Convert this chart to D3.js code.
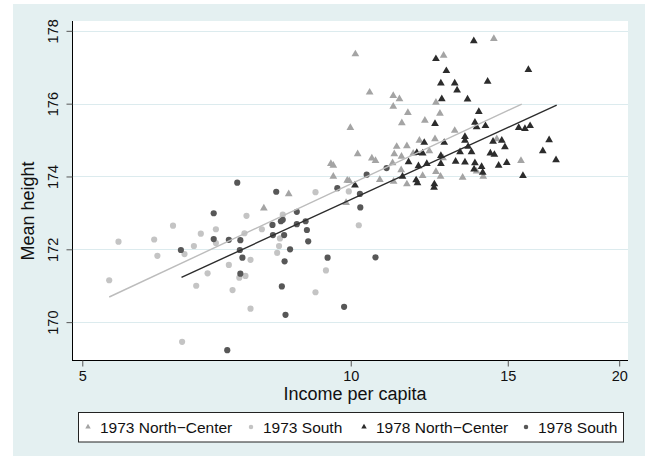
<!DOCTYPE html>
<html>
<head>
<meta charset="utf-8">
<script src="https://cdn.jsdelivr.net/npm/d3@7/dist/d3.min.js"></script>
<style>
  body { margin: 0; background: #fff; }
  svg { display: block; font-family: "Liberation Sans", Arial, Helvetica, sans-serif; }
</style>
</head>
<body>
<div id="chart"></div>
<script>
// ── Datos (ingreso per cápita, estatura media) ─────────────
const north1973 = [
  [10.12,177.36],[14.47,177.78],[12.71,177.32],[10.50,176.31],[11.16,176.22],[11.34,176.13],
  [11.16,175.92],[11.59,175.75],[12.46,176.03],[12.59,175.73],[12.11,175.54],[11.41,175.47],
  [9.99,175.34],[13.08,175.26],[14.58,175.03],[11.94,174.99],[12.43,175.03],[11.26,174.82],
  [11.56,174.84],[12.25,174.70],[11.19,174.62],[11.40,174.55],[10.18,174.62],[10.56,174.50],
  [10.66,174.43],[11.14,174.37],[9.50,174.35],[9.56,174.30],[9.56,174.00],[9.96,173.88],
  [10.78,173.91],[11.17,173.86],[11.56,173.79],[12.04,174.02],[12.46,174.13],[12.61,174.00],
  [13.35,173.97],[13.84,174.14],[14.08,174.00],[15.52,174.43],[11.75,174.63],[7.99,173.13],
  [8.52,173.52],[9.88,173.28],[9.91,173.89],[12.69,174.51],[11.39,174.18]
];
const south1973 = [
  [5.36,171.15],[5.49,172.21],[6.02,172.27],[6.07,171.82],[6.32,172.65],[6.51,171.87],
  [6.67,172.09],[6.71,171.00],[6.79,172.43],[6.91,171.34],[7.06,172.55],[7.06,172.17],
  [7.30,171.57],[7.37,170.88],[7.60,172.44],[7.64,172.92],[7.62,171.27],[7.50,171.22],
  [7.72,171.71],[7.72,170.37],[7.95,172.55],[8.27,171.90],[8.31,172.09],[8.33,172.30],
  [8.39,172.95],[9.13,173.57],[9.13,170.82],[9.38,171.42],[6.47,169.46],[10.21,172.66],
  [9.95,173.59]
];
const north1978 = [
  [13.74,177.72],[12.46,177.23],[12.80,176.90],[15.82,176.93],[12.62,176.56],[13.08,176.56],
  [14.24,176.61],[13.16,176.37],[12.65,176.13],[13.52,176.12],[13.92,175.78],[12.43,175.45],
  [13.78,175.48],[13.84,175.36],[14.16,175.39],[15.43,175.34],[15.68,175.31],[15.89,175.39],
  [13.43,175.09],[13.43,174.99],[12.09,174.93],[12.73,174.93],[14.44,174.96],[14.77,174.99],
  [16.69,175.00],[14.89,174.81],[13.54,174.82],[13.26,174.67],[13.66,174.67],[14.34,174.64],
  [14.49,174.60],[16.42,174.70],[11.86,174.65],[12.04,174.64],[12.62,174.57],[13.43,174.39],
  [13.11,174.41],[13.78,174.37],[14.02,174.27],[14.65,174.30],[14.96,174.38],[16.99,174.45],
  [11.61,174.40],[11.91,174.29],[12.17,174.35],[12.62,174.35],[13.75,174.20],[14.06,174.11],
  [11.43,174.00],[15.60,174.02],[11.84,173.90],[11.88,173.82],[12.41,173.79],[12.40,173.70],
  [10.11,173.76]
];
const south1978 = [
  [7.46,173.83],[8.25,173.58],[7.02,172.99],[6.45,171.98],[7.02,172.28],[7.30,172.26],
  [7.52,172.25],[7.51,171.98],[7.56,171.77],[7.52,171.33],[8.17,172.67],[8.18,172.39],
  [8.35,172.77],[8.39,172.81],[8.42,172.39],[8.55,172.00],[8.43,171.67],[8.37,170.98],
  [8.45,170.20],[8.70,173.03],[8.70,172.69],[8.90,172.77],[8.93,172.53],[8.96,172.22],
  [9.42,171.77],[9.66,173.68],[9.83,170.42],[7.27,169.23],[10.24,173.52],[10.25,173.15],
  [10.66,171.78],[10.42,174.05],[10.97,174.23]
];
// Rectas de ajuste (extremos)
const fit1973 = [[5.36,170.69],[15.55,175.99]];
const fit1978 = [[6.46,171.23],[17.02,175.96]];

const xTicks = [5, 10, 15, 20];
const yTicks = [170, 172, 174, 176, 178];

const series = [
  { name: '1973 North\u2212Center', data: north1973, shape: 'tri',    color: '#a4a4a4' },
  { name: '1973 South',            data: south1973, shape: 'circle', color: '#c4c4c4' },
  { name: '1978 North\u2212Center', data: north1978, shape: 'tri',    color: '#2c2c2c' },
  { name: '1978 South',            data: south1978, shape: 'circle', color: '#575757' }
];

// ── Lienzo ─────────────────────────────────────────────────
const W = 649, H = 459;
const plot = { left: 72, right: 628, top: 21, bottom: 360 };

const svg = d3.select('#chart').append('svg')
  .attr('width', W).attr('height', H);

svg.append('rect').attr('x', 13).attr('y', 4).attr('width', 632).attr('height', 452)
  .attr('fill', '#e4f0f1');
svg.append('rect').attr('x', plot.left).attr('y', plot.top)
  .attr('width', plot.right - plot.left).attr('height', plot.bottom - plot.top)
  .attr('fill', '#fff');

const x = d3.scaleLog().domain([4.869, 20.46]).range([plot.left, plot.right]);
const y = d3.scaleLinear().domain([168.96, 178.27]).range([plot.bottom, plot.top]);

// Rejilla
svg.append('g').selectAll('line').data(yTicks).join('line')
  .attr('x1', plot.left).attr('x2', plot.right)
  .attr('y1', d => Math.round(y(d)) + 0.5).attr('y2', d => Math.round(y(d)) + 0.5)
  .attr('stroke', '#dcebee').attr('stroke-width', 1.2);

// Ejes
const yAxis = svg.append('g')
  .attr('transform', `translate(${plot.left + 0.5},0)`)
  .call(d3.axisLeft(y).tickValues(yTicks).tickSize(6).tickPadding(4).tickFormat(d3.format('d')));
yAxis.select('.domain').attr('d', `M0,${plot.top}V${plot.bottom}`).attr('stroke', '#000');
yAxis.selectAll('.tick line').attr('stroke', '#555');
yAxis.selectAll('.tick text')
  .attr('x', null).attr('dy', null)
  .attr('transform', 'translate(-15,0) rotate(-90)')
  .attr('text-anchor', 'middle')
  .style('font-size', '14.5px').attr('fill', '#111');

const xAxis = svg.append('g')
  .attr('transform', `translate(0,${plot.bottom + 0.5})`)
  .call(d3.axisBottom(x).tickValues(xTicks).tickSize(6).tickFormat(d3.format('d')));
xAxis.select('.domain').attr('d', `M${plot.left},0H${plot.right}`).attr('stroke', '#000');
xAxis.selectAll('.tick line').attr('stroke', '#555');
xAxis.selectAll('.tick text')
  .attr('y', 20.5).attr('dy', null)
  .style('font-size', '14.5px').attr('fill', '#111');

// Títulos de ejes
svg.append('text').attr('x', 355).attr('y', 400)
  .attr('text-anchor', 'middle').style('font-size', '18px').attr('fill', '#111')
  .text('Income per capita');
svg.append('text').attr('transform', 'translate(34,211) rotate(-90)')
  .attr('text-anchor', 'middle').style('font-size', '18px').attr('fill', '#111')
  .text('Mean height');

// Marcadores
const triPt = d3.symbol().type(d3.symbolTriangle).size(26);
const cirPt = d3.symbol().type(d3.symbolCircle).size(30);

series.forEach(s => {
  svg.append('g').selectAll('path').data(s.data).join('path')
    .attr('transform', d => `translate(${x(d[0])},${y(d[1])})`)
    .attr('d', s.shape === 'tri' ? triPt : cirPt)
    .attr('fill', s.color);
});

// Rectas de ajuste
const line = d3.line().x(d => x(d[0])).y(d => y(d[1]));
svg.append('path').datum(fit1973).attr('d', line)
  .attr('stroke', '#bcbcbc').attr('stroke-width', 1.4).attr('fill', 'none');
svg.append('path').datum(fit1978).attr('d', line)
  .attr('stroke', '#2c2c2c').attr('stroke-width', 1.4).attr('fill', 'none');

// Leyenda
svg.append('rect').attr('x', 78.5).attr('y', 412.5).attr('width', 545).attr('height', 29.5)
  .attr('fill', '#fff').attr('stroke', '#222').attr('stroke-width', 1);

const legX = [88, 251, 364, 526];
const triLeg = d3.symbol().type(d3.symbolTriangle).size(13);
const cirLeg = d3.symbol().type(d3.symbolCircle).size(16);
series.forEach((s, i) => {
  svg.append('path')
    .attr('transform', `translate(${legX[i]},427)`)
    .attr('d', s.shape === 'tri' ? triLeg : cirLeg)
    .attr('fill', s.color);
  svg.append('text').attr('x', legX[i] + 12).attr('y', 433)
    .style('font-size', '15.5px').attr('fill', '#111')
    .text(s.name);
});
</script>
</body>
</html>
